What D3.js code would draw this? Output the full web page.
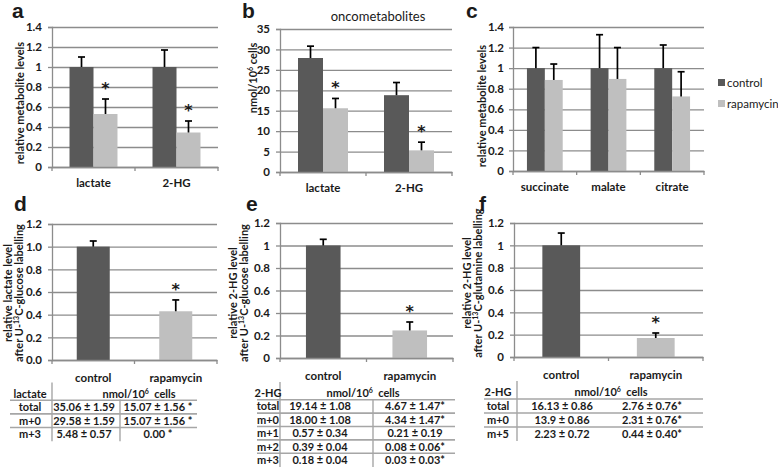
<!DOCTYPE html>
<html>
<head>
<meta charset="utf-8">
<script src="https://cdn.jsdelivr.net/npm/d3@7"></script>
<style>
  body { margin: 0; background: #fff; }
  text { font-family: Lato, "Liberation Sans", sans-serif; fill: #1a1a1a; }
</style>
</head>
<body>
<div class="canvas"></div>
<script>
const series = ["control", "rapamycin"]

// a: relative metabolite levels
const catsA = ["lactate", "2-HG"]
const controlA = [1.0, 1.0]
const controlErrA = [0.10, 0.17]
const rapaA = [0.53, 0.345]
const rapaErrA = [0.15, 0.115]

// b: oncometabolites, nmol/10^6 cells
const catsB = ["lactate", "2-HG"]
const controlB = [27.9, 18.8]
const controlErrB = [2.9, 3.1]
const rapaB = [15.6, 5.3]
const rapaErrB = [2.4, 2.0]

// c: relative metabolite levels
const catsC = ["succinate", "malate", "citrate"]
const controlC = [1.0, 1.0, 1.0]
const controlErrC = [0.20, 0.325, 0.225]
const rapaC = [0.885, 0.895, 0.725]
const rapaErrC = [0.155, 0.305, 0.24]

// d, e, f: labelling experiments
const groups = ["control", "rapamycin"]
const valuesD = [1.0, 0.43]
const errD = [0.05, 0.10]
const valuesE = [1.0, 0.245]
const errE = [0.055, 0.075]
const valuesF = [1.0, 0.17]
const errF = [0.11, 0.045]

const ticksAC = [0, 0.2, 0.4, 0.6, 0.8, 1, 1.2, 1.4]
const ticksB = [0, 5, 10, 15, 20, 25, 30, 35]
const ticksDEF = [0, 0.2, 0.4, 0.6, 0.8, 1, 1.2]

// tables
const rowsD = ["total", "m+0", "m+3"]
const tabControlD = ["35.06 ± 1.59", "29.58 ± 1.59", "5.48 ± 0.57"]
const tabRapaD = ["15.07 ± 1.56 *", "15.07 ± 1.56 *", "0.00 *"]

const rowsE = ["total", "m+0", "m+1", "m+2", "m+3"]
const tabControlE = ["19.14 ± 1.08", "18.00 ± 1.08", "0.57 ± 0.34", "0.39 ± 0.04", "0.18 ± 0.04"]
const tabRapaE = ["4.67 ± 1.47*", "4.34 ± 1.47*", "0.21 ± 0.19", "0.08 ± 0.06*", "0.03 ± 0.03*"]

const rowsF = ["total", "m+0", "m+5"]
const tabControlF = ["16.13 ± 0.86", "13.9 ± 0.86", "2.23 ± 0.72"]
const tabRapaF = ["2.76 ± 0.76*", "2.31 ± 0.76*", "0.44 ± 0.40*"]

const colors = { control: "#595959", rapamycin: "#bfbfbf" }
const gridColor = "#8c8c8c"
const tableLine = "#a6a6a6"

const svg = d3.select(".canvas")
  .append("svg")
    .attr("width", 778)
    .attr("height", 472)

function grouped(cats, ctrl, ctrlErr, rapa, rapaErr, stars) {
  const out = []
  cats.forEach((c, i) => {
    out.push({ cat: c, key: "control", color: colors.control, v: ctrl[i], e: ctrlErr[i], star: false })
    out.push({ cat: c, key: "rapamycin", color: colors.rapamycin, v: rapa[i], e: rapaErr[i], star: stars })
  })
  return out
}

function single(vals, errs) {
  return groups.map((c, i) => ({ cat: c, key: "one", color: colors[c], v: vals[i], e: errs[i], star: i === 1 }))
}

// text with superscripts: parts are strings or {up: "..."}
function addParts(sel, parts, supSize) {
  let shift = 0
  parts.forEach(part => {
    if (typeof part === "string") {
      const ts = sel.append("tspan").text(part)
      if (shift) ts.attr("dy", shift)
      shift = 0
    } else {
      sel.append("tspan").attr("dy", -4).style("font-size", supSize).text(part.up)
      shift = 4
    }
  })
}

function drawPanel(p) {
  const g = svg.append("g")
  const y = d3.scaleLinear().domain([0, p.max]).range([p.bottom, p.top])
  const x = d3.scaleBand().domain(p.cats).range([p.left, p.right])
  const x1 = d3.scaleBand().domain(p.keys).range([0, x.bandwidth()]).paddingOuter(p.pad)

  // gridlines
  g.append("g")
    .attr("transform", `translate(${p.left},0)`)
    .call(d3.axisLeft(y).tickValues(p.ticks).tickSize(-(p.right - p.left)).tickFormat(""))
    .call(s => s.select(".domain").remove())
    .selectAll("line")
      .attr("stroke", gridColor)
      .attr("stroke-width", 1.3)

  // bars
  g.selectAll("rect.bar")
    .data(p.bars)
    .enter()
    .append("rect")
      .attr("x", d => x(d.cat) + x1(d.key))
      .attr("width", x1.bandwidth())
      .attr("y", d => y(d.v))
      .attr("height", d => p.bottom - y(d.v))
      .attr("fill", d => d.color)

  // error bars (upper half only)
  const cx = d => x(d.cat) + x1(d.key) + x1.bandwidth() / 2
  const eb = g.selectAll("g.err")
    .data(p.bars)
    .enter()
    .append("g")
  eb.append("line")
    .attr("x1", cx)
    .attr("x2", cx)
    .attr("y1", d => y(d.v))
    .attr("y2", d => y(d.v + d.e))
    .attr("stroke", "#000")
    .attr("stroke-width", 1.7)
  eb.append("line")
    .attr("x1", d => cx(d) - 3.5)
    .attr("x2", d => cx(d) + 3.5)
    .attr("y1", d => y(d.v + d.e))
    .attr("y2", d => y(d.v + d.e))
    .attr("stroke", "#000")
    .attr("stroke-width", 1.7)

  // significance stars
  g.selectAll("text.star")
    .data(p.bars.filter(d => d.star))
    .enter()
    .append("text")
      .attr("x", cx)
      .attr("y", d => y(d.v + d.e) - 16 + 11)
      .attr("text-anchor", "middle")
      .style("font-family", "'DejaVu Sans', sans-serif")
      .style("font-size", "16px")
      .style("font-weight", "bold")
      .text("*")

  // y axis
  const yAxisGroup = g.append("g")
    .attr("transform", `translate(${p.left},0)`)
    .call(d3.axisLeft(y).tickValues(p.ticks).tickSize(4).tickPadding(p.yPad || 6).tickFormat(p.fmt))
  yAxisGroup.selectAll("line, path").attr("stroke", gridColor).attr("stroke-width", 1.3)
  yAxisGroup.selectAll("text")
    .style("font-size", "11.5px")
    .style("font-weight", "bold")
    .style("font-family", "Lato, sans-serif")
    .attr("fill", "#1a1a1a")

  // x axis with ticks at the category boundaries
  const xAxisGroup = g.append("g")
    .attr("transform", `translate(0,${p.bottom})`)
    .call(d3.axisBottom(x).tickSize(0).tickPadding(p.xPad))
  xAxisGroup.select(".domain").attr("stroke", gridColor).attr("stroke-width", 1.3)
  xAxisGroup.selectAll("text")
    .style("font-size", "11.5px")
    .style("font-weight", "bold")
    .style("font-family", "Lato, sans-serif")
    .attr("fill", "#1a1a1a")
  xAxisGroup.selectAll("line.bound")
    .data(d3.range(p.cats.length + 1))
    .enter()
    .append("line")
      .attr("x1", i => p.left + i * x.step())
      .attr("x2", i => p.left + i * x.step())
      .attr("y1", 0)
      .attr("y2", 4)
      .attr("stroke", gridColor)
      .attr("stroke-width", 1.3)

  // axis title
  const t = g.append("text")
    .attr("transform", `translate(${p.titleX},${p.titleY}) rotate(-90)`)
    .attr("text-anchor", "middle")
    .style("font-size", "11px")
    .style("font-weight", "bold")
  p.title.forEach((line, i) => {
    const ts = t.append("tspan").attr("x", 0).attr("dy", i === 0 ? 0 : 11)
    addParts(ts, line, "7px")
  })

  // panel letter
  svg.append("text")
    .attr("x", p.letterX)
    .attr("y", p.letterY)
    .style("font-family", "Arial, 'Liberation Sans', sans-serif")
    .style("font-size", "21px")
    .style("font-weight", "bold")
    .text(p.letter)
}

const fmtG = d3.format("~g")

drawPanel({
  letter: "a", letterX: 12, letterY: 18,
  left: 52, right: 218, top: 27, bottom: 167, max: 1.4, ticks: ticksAC, fmt: fmtG,
  cats: catsA, keys: series, pad: 0.73, xPad: 12,
  bars: grouped(catsA, controlA, controlErrA, rapaA, rapaErrA, true),
  title: [["relative metabolite levels"]], titleX: 24, titleY: 103
})

drawPanel({
  letter: "b", letterX: 242, letterY: 18,
  left: 280, right: 452, top: 29, bottom: 172, max: 35, ticks: ticksB, fmt: fmtG,
  cats: catsB, keys: series, pad: 0.72, xPad: 12,
  bars: grouped(catsB, controlB, controlErrB, rapaB, rapaErrB, true),
  title: [["nmol/10", { up: "6" }, " cells"]], titleX: 257, titleY: 78
})

drawPanel({
  letter: "c", letterX: 466, letterY: 18,
  left: 513, right: 704, top: 27, bottom: 171, max: 1.4, ticks: ticksAC, fmt: fmtG,
  cats: catsC, keys: series, pad: 0.78, xPad: 12, yPad: 5,
  bars: grouped(catsC, controlC, controlErrC, rapaC, rapaErrC, false),
  title: [["relative metabolite levels"]], titleX: 486, titleY: 106
})

drawPanel({
  letter: "d", letterX: 14, letterY: 211,
  left: 52, right: 217, top: 224, bottom: 360, max: 1.2, ticks: ticksDEF, fmt: d3.format(".1f"),
  cats: groups, keys: ["one"], pad: 0.75, xPad: 14,
  bars: single(valuesD, errD),
  title: [["relative lactate level"], ["after U-", { up: "13" }, "C-glucose labelling"]], titleX: 12, titleY: 293
})

drawPanel({
  letter: "e", letterX: 246, letterY: 211,
  left: 280, right: 453, top: 223, bottom: 358, max: 1.2, ticks: ticksDEF, fmt: fmtG,
  cats: groups, keys: ["one"], pad: 0.75, xPad: 14,
  bars: single(valuesE, errE),
  title: [["relative 2-HG level"], ["after U-", { up: "13" }, "C-glucose labelling"]], titleX: 237, titleY: 293
})

drawPanel({
  letter: "f", letterX: 479, letterY: 211,
  left: 514, right: 703, top: 223, bottom: 357, max: 1.2, ticks: ticksDEF, fmt: fmtG,
  cats: groups, keys: ["one"], pad: 0.75, xPad: 14,
  bars: single(valuesF, errF),
  title: [["relative 2-HG level"], ["after U-", { up: "13" }, "C-glutamine labelling"]], titleX: 471, titleY: 283
})

// panel b title
svg.append("text")
  .attr("x", 378)
  .attr("y", 21)
  .attr("text-anchor", "middle")
  .style("font-size", "13px")
  .text("oncometabolites")

// legend
const legend = svg.append("g")
series.forEach((s, i) => {
  legend.append("rect")
    .attr("x", 718)
    .attr("y", 79 + i * 21)
    .attr("width", 7)
    .attr("height", 7)
    .attr("fill", colors[s])
  legend.append("text")
    .attr("x", 727)
    .attr("y", 87 + i * 21)
    .style("font-size", "11.5px")
    .text(s)
})

// tables
function drawTable(t) {
  const g = svg.append("g")
  const rowY = i => t.headerY + (i + 1) * t.rowH
  // horizontal rules between rows
  d3.range(t.rows.length).forEach(i => {
    g.append("line")
      .attr("x1", t.lineX1).attr("x2", t.lineX2)
      .attr("y1", rowY(i) - t.rowH / 2).attr("y2", rowY(i) - t.rowH / 2)
      .attr("stroke", tableLine).attr("stroke-width", 1.6)
  })
  g.append("line")
    .attr("x1", t.vX).attr("x2", t.vX)
    .attr("y1", t.headerY - 11).attr("y2", rowY(t.rows.length - 1) + 7)
    .attr("stroke", tableLine).attr("stroke-width", 1.4)
  if (t.midX) {
    g.append("line")
      .attr("x1", t.midX).attr("x2", t.midX)
      .attr("y1", t.headerY + 6).attr("y2", rowY(t.rows.length - 1) + 7)
      .attr("stroke", tableLine).attr("stroke-width", 1.4)
  }
  const txt = (x, y, s) => g.append("text")
    .attr("x", x).attr("y", y + 4)
    .attr("text-anchor", "middle")
    .style("font-size", "11px")
    .style("font-weight", "bold")
    .text(s)
  txt(t.labelX, t.headerY, t.name)
  const h = g.append("text")
    .attr("x", t.unitX).attr("y", t.headerY + 4)
    .attr("text-anchor", "middle")
    .style("font-size", "11px")
    .style("font-weight", "bold")
  addParts(h, ["nmol/10", { up: "6" }, "\u00a0\u00a0cells"], "7px")
  t.rows.forEach((r, i) => {
    txt(t.labelX, rowY(i), r)
    txt(t.ctrlX, rowY(i), t.ctrl[i])
    txt(t.rapaX, rowY(i), t.rapa[i])
  })
}

drawTable({
  name: "lactate", rows: rowsD, ctrl: tabControlD, rapa: tabRapaD,
  headerY: 393.5, rowH: 13.6, lineX1: 10, lineX2: 197, vX: 52, midX: 120,
  labelX: 30, unitX: 139, ctrlX: 84, rapaX: 158
})

drawTable({
  name: "2-HG", rows: rowsE, ctrl: tabControlE, rapa: tabRapaE,
  headerY: 393, rowH: 13.4, lineX1: 257, lineX2: 455, vX: 280, midX: 373,
  labelX: 268, unitX: 363, ctrlX: 320, rapaX: 415
})

drawTable({
  name: "2-HG", rows: rowsF, ctrl: tabControlF, rapa: tabRapaF,
  headerY: 392, rowH: 14, lineX1: 484, lineX2: 703, vX: 517, midX: null,
  labelX: 498, unitX: 611, ctrlX: 562, rapaX: 652
})
</script>
</body>
</html>
